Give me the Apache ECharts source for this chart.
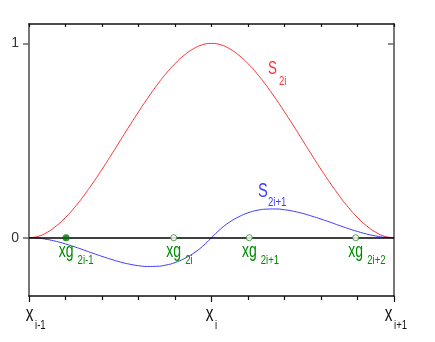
<!DOCTYPE html>
<html><head><meta charset="utf-8">
<script src="https://cdn.jsdelivr.net/npm/echarts@6/dist/echarts.min.js"></script>
<style>html,body{margin:0;padding:0;background:#fff}#c{width:435px;height:342px}</style>
</head><body><div id="c"></div>
<script>
const xs = [-1,-0.95,-0.9,-0.85,-0.8,-0.75,-0.7,-0.65,-0.6,-0.55,-0.5,-0.45,-0.4,-0.35,-0.3,-0.25,-0.2,-0.15,-0.1,-0.05,0,
  0.05,0.1,0.15,0.2,0.25,0.3,0.35,0.4,0.45,0.5,0.55,0.6,0.65,0.7,0.75,0.8,0.85,0.9,0.95,1];
const s2i = [0,0.007,0.028,0.061,0.104,0.156,0.216,0.282,0.352,0.425,0.5,0.575,0.648,0.718,0.784,0.844,0.896,0.939,0.972,0.993,1,
  0.993,0.972,0.939,0.896,0.844,0.784,0.718,0.648,0.575,0.5,0.425,0.352,0.282,0.216,0.156,0.104,0.061,0.028,0.007,0];
const s2i1 = [0,-0.002,-0.009,-0.019,-0.032,-0.047,-0.063,-0.080,-0.096,-0.111,-0.125,-0.136,-0.144,-0.148,-0.147,-0.141,-0.128,-0.108,-0.081,-0.045,0,
  0.045,0.081,0.108,0.128,0.141,0.147,0.148,0.144,0.136,0.125,0.111,0.096,0.080,0.063,0.047,0.032,0.019,0.009,0.002,0];
const gaussX = [-0.797,-0.207,0.207,0.79];
const gaussSub = ['2i-1','2i','2i+1','2i+2'];
const gaussFilled = [true,false,false,false];
const xTickValues = [-1,0,1];
const xTickSub = ['i-1','i','i+1'];
const yTickValues = [0,1];
const curveNames = ['S','S'];
const curveSubs = ['2i','2i+1'];
const curveLabelPos = [[0.334,0.869],[0.282,0.240]];

const FONT = '"Liberation Sans",Arial,sans-serif';
const RED = '#ff3030', BLUE = '#3c3cff', GREEN = '#008a00';
const SX = 0.7, SSX = 0.8;
const X_LABEL_SHIFT = [0.5,-2,-5.5];

function zip(a,b){return a.map((v,i)=>[v,b[i]]);}

const chart = echarts.init(document.getElementById('c'), null, {renderer:'canvas'});
const option = {
  animation:false,
  backgroundColor:'#fff',
  grid:{left:29,right:41,top:24,bottom:46},
  xAxis:[
    {type:'value',position:'bottom',min:-1,max:1,interval:1,
     axisLine:{show:true,onZero:false,lineStyle:{color:'#111',width:1.5}},
     axisTick:{show:true,inside:false,length:6,lineStyle:{color:'#111',width:1.2}},
     minorTick:{show:true,splitNumber:5,length:4,lineStyle:{color:'#111',width:1.2}},
     axisLabel:{show:false},splitLine:{show:false}},
    {type:'value',position:'top',min:-1,max:1,interval:0.2,
     axisLine:{show:true,onZero:false,lineStyle:{color:'#111',width:1.5}},
     axisTick:{show:true,inside:true,length:3,lineStyle:{color:'#111',width:1.2}},
     axisLabel:{show:false},splitLine:{show:false}}
  ],
  yAxis:[
    {type:'value',position:'left',min:-0.3,max:1.1,
     axisLine:{show:true,onZero:false,lineStyle:{color:'#777',width:2}},
     axisTick:{show:true,inside:false,length:6,customValues:yTickValues,lineStyle:{color:'#666',width:1.5}},
     axisLabel:{show:true,customValues:yTickValues,margin:10,fontSize:14,color:'#333',fontFamily:FONT},
     splitLine:{show:false}},
    {type:'value',position:'right',min:-0.3,max:1.1,
     axisLine:{show:true,onZero:false,lineStyle:{color:'#777',width:2}},
     axisTick:{show:true,inside:true,length:6,customValues:[1],lineStyle:{color:'#666',width:1.5}},
     axisLabel:{show:false},splitLine:{show:false}}
  ],
  series:[
    {type:'line',name:'S2i',data:zip(xs,s2i),showSymbol:false,smooth:true,
     lineStyle:{color:RED,width:1},z:3,
     markLine:{silent:true,symbol:'none',label:{show:false},
       lineStyle:{color:'#000',width:1.5,type:'solid'},data:[{yAxis:0}]}},
    {type:'line',name:'S2i+1',data:zip(xs,s2i1),showSymbol:false,smooth:true,
     lineStyle:{color:BLUE,width:1},z:4},
    {type:'scatter',name:'gauss',clip:false,z:5,
     data:gaussX.map((x,i)=>({value:[x,0],
       symbolSize:gaussFilled[i]?7:6,
       itemStyle:gaussFilled[i]?{color:'#007000',borderWidth:0}:{color:'#fff',borderColor:'#2a8a2a',borderWidth:1}}))}
  ]
};
chart.setOption(option);

// text annotations, anchored through the chart's own coordinate conversion
function txt(px,py,text,size,color,align,sx){
  return {type:'text',x:px,y:py,scaleX:sx,silent:true,z:100,
    style:{text:text,x:0,y:0,fontSize:size,fontFamily:FONT,fill:color,align:align,verticalAlign:'middle'}};
}
const els=[];
gaussX.forEach((x,i)=>{
  const p=chart.convertToPixel({gridIndex:0},[x,0]);
  els.push(txt(p[0],p[1]+13.3,'xg',20,GREEN,'center',SX));
  els.push(txt(p[0]+11.5,p[1]+23,gaussSub[i],12,GREEN,'left',SSX));
});
curveLabelPos.forEach((pos,i)=>{
  const p=chart.convertToPixel({gridIndex:0},pos);
  const c=i===0?RED:BLUE;
  els.push(txt(p[0],p[1],curveNames[i],i===0?19:21,c,'center',SX));
  els.push(txt(p[0]+(i===0?6.5:5),p[1]+(i===0?13:11.5),curveSubs[i],12,c,'left',SSX));
});
xTickValues.forEach((x,i)=>{
  const p=chart.convertToPixel({gridIndex:0},[x,-0.3]);
  const cx=p[0]+X_LABEL_SHIFT[i];
  els.push(txt(cx,p[1]+18.5,'x',22,'#111','center',SX));
  els.push(txt(cx+5.5,p[1]+30,xTickSub[i],12,'#111','left',SSX));
});
chart.setOption({graphic:{elements:els}});
</script></body></html>
